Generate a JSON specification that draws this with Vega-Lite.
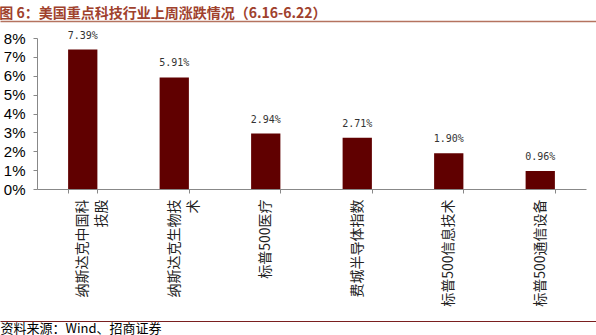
{
  "$schema": "https://vega.github.io/schema/vega-lite/v6.json",
  "width": 549,
  "height": 151,
  "autosize": {"type": "none"},
  "padding": {"left": 37, "top": 38, "right": 10, "bottom": 146},
  "background": "white",
  "title": {
    "text": "图 6：美国重点科技行业上周涨跌情况（6.16-6.22）",
    "anchor": "start",
    "font": "Noto Sans CJK SC",
    "fontSize": 14,
    "fontWeight": "bold",
    "color": "#A0412D",
    "offset": 1,
    "dy": 1,
    "dx": 2
  },
  "config": {"view": {"stroke": null}},
  "data": {
    "values": [
      {"name": "纳斯达克中国科技股", "value": 0.0739},
      {"name": "纳斯达克生物技术", "value": 0.0591},
      {"name": "标普500医疗", "value": 0.0294},
      {"name": "费城半导体指数", "value": 0.0271},
      {"name": "标普500信息技术", "value": 0.0190},
      {"name": "标普500通信设备", "value": 0.0096}
    ]
  },
  "layer": [
    {
      "encoding": {
        "x": {
          "field": "name",
          "type": "nominal",
          "sort": null,
          "scale": {"paddingInner": 0.68, "paddingOuter": 0.34},
          "axis": {
            "title": null,
            "labelAngle": -90,
            "labelFont": "Noto Sans CJK SC",
            "labelFontSize": 14,
            "labelLineHeight": 19,
            "labelColor": "#222222",
            "labelPadding": 6,
            "labelOverlap": false,
            "labelLimit": 300,
            "tickBand": "extent",
            "tickColor": "#888888",
            "domainColor": "#888888",
            "tickSize": 4,
            "labelExpr": "length(datum.label) > 7 && indexof(datum.label, '500') < 0 ? [substring(datum.label, 0, 7), substring(datum.label, 7)] : datum.label"
          }
        },
        "y": {
          "field": "value",
          "type": "quantitative",
          "scale": {"domain": [0, 0.08]},
          "axis": {
            "title": null,
            "format": ".0%",
            "values": [0, 0.01, 0.02, 0.03, 0.04, 0.05, 0.06, 0.07, 0.08],
            "grid": false,
            "labelFont": "Liberation Sans",
            "labelFontSize": 15,
            "labelColor": "#000000",
            "labelPadding": 8,
            "tickColor": "#888888",
            "domainColor": "#888888",
            "tickSize": 4
          }
        }
      },
      "layer": [
        {"mark": {"type": "bar", "color": "#600000"}},
        {
          "mark": {
            "type": "text",
            "baseline": "bottom",
            "dy": -9,
            "font": "DejaVu Sans Mono",
            "fontSize": 10,
            "color": "#333333"
          },
          "encoding": {"text": {"field": "value", "format": ".2%"}}
        }
      ]
    },
    {
      "data": {"values": [{"k": 0}]},
      "mark": {"type": "point", "opacity": 0},
      "encoding": {
        "x": {
          "datum": 0,
          "type": "quantitative",
          "scale": {"domain": [0, 1], "range": [-37, 559]},
          "axis": {
            "orient": "top",
            "offset": 17,
            "title": null,
            "labels": false,
            "ticks": false,
            "grid": false,
            "domainColor": "#B5735F",
            "domainWidth": 1.5
          }
        }
      }
    },
    {
      "data": {"values": [{"k": 0}]},
      "mark": {"type": "point", "opacity": 0},
      "encoding": {
        "x": {
          "datum": 0,
          "type": "quantitative",
          "scale": {"domain": [0, 1], "range": [-37, 559]},
          "axis": {
            "orient": "bottom",
            "offset": 132,
            "title": "资料来源：Wind、招商证券",
            "titleAnchor": "start",
            "titleAlign": "left",
            "titleFont": "Noto Sans CJK SC",
            "titleFontSize": 13,
            "titleFontWeight": "normal",
            "titleColor": "#000000",
            "titlePadding": 1,
            "labels": false,
            "ticks": false,
            "grid": false,
            "domainColor": "#7A1F1F",
            "domainWidth": 1.2
          }
        }
      }
    }
  ],
  "resolve": {"scale": {"x": "independent"}, "axis": {"x": "independent"}}
}
